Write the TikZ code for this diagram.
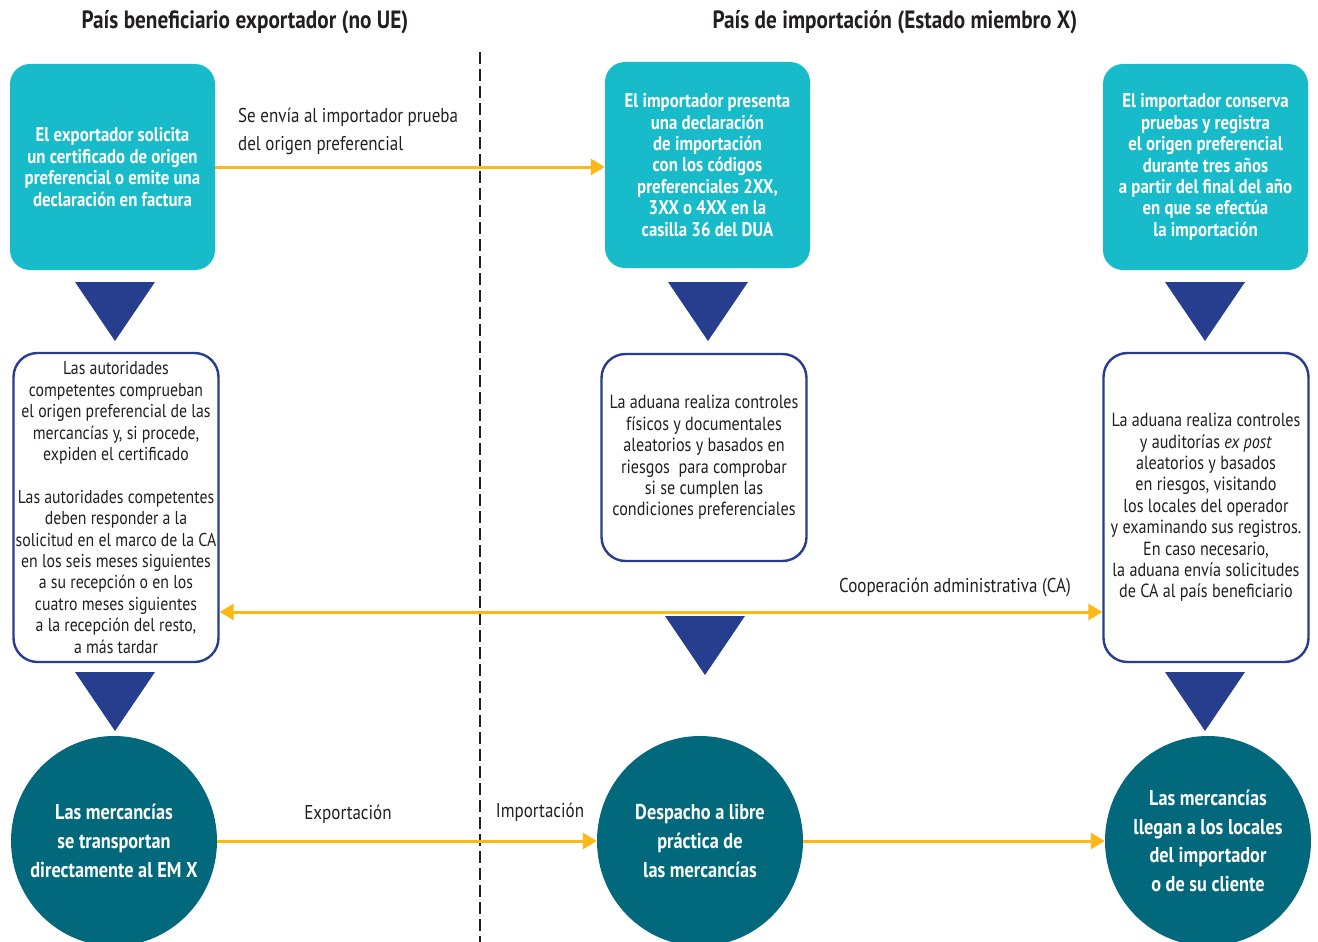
\documentclass[tikz,border=0pt]{standalone}
\usepackage{fontspec}
\setmainfont{PT Sans}[FakeStretch=0.85]
\usetikzlibrary{arrows.meta,calc,shapes.geometric}
\definecolor{inkgray}{HTML}{231F20}
\definecolor{boxteal}{HTML}{17BBCA}
\definecolor{darkteal}{HTML}{02697D}
\definecolor{navy}{HTML}{273D8E}
\definecolor{gold}{HTML}{FBB817}
\tikzset{
  tealbox/.style={fill=boxteal, rounded corners=20pt, minimum width=205pt, minimum height=206pt,
    inner sep=0pt, align=center, text=white, font=\bfseries\fontsize{19.8}{21.4}\selectfont},
  whitebox/.style={draw=navy, line width=2.4pt, fill=white, rounded corners=24pt, minimum width=205pt,
    inner sep=0pt, align=center, text=inkgray, font=\fontsize{19}{21.4}\selectfont},
  round/.style={ellipse, fill=darkteal, minimum width=206pt, minimum height=210pt, inner sep=0pt},
  roundtext/.style={inner sep=0pt, align=center, text=white, font=\bfseries\fontsize{21.5}{28.6}\selectfont},
  flow/.style={draw=gold, line width=3pt, -{Triangle[length=14pt,width=16pt]}},
  twoway/.style={draw=gold, line width=3pt, {Triangle[length=14pt,width=16pt]}-{Triangle[length=14pt,width=16pt]}},
  lbl/.style={text=inkgray, font=\fontsize{20}{28}\selectfont, inner sep=0pt},
  head/.style={text=inkgray, font=\bfseries\fontsize{25}{28}\selectfont, inner sep=0pt},
  tri/.style={fill=navy}
}
\newcommand{\downtri}[2]{\fill[tri] (#1-40,#2) -- (#1+40,#2) -- (#1,#2+59) -- cycle;}
\begin{document}
\begin{tikzpicture}[x=1pt,y=-1pt]
\useasboundingbox (0,0) rectangle (1318,942);

% column headings and the border between the two countries
\node[head] (h1) at (245,22) {País beneficiario exportador (no UE)};
\node[head] (h2) at (895,22) {País de importación (Estado miembro X)};
\draw[inkgray, line width=2.5pt, dash pattern=on 12pt off 5pt] (480,52) -- (480,942);

% top row
\node[tealbox] (b1) at (112.5,167) {El exportador solicita\\un certificado de origen\\preferencial o emite una\\declaración en factura};
\node[tealbox] (b2) at (707.5,165) {El importador presenta\\una declaración\\de importación\\con los códigos\\preferenciales 2XX,\\3XX o 4XX en la\\casilla 36 del DUA};
\node[tealbox] (b3) at (1205.5,167) {El importador conserva\\pruebas y registra\\el origen preferencial\\durante tres años\\a partir del final del año\\en que se efectúa\\la importación};

% middle row
\node[whitebox, minimum height=309pt, font=\fontsize{18.6}{21.4}\selectfont] (w1) at (116,507.5) {Las autoridades\\competentes comprueban\\el origen preferencial de las\\mercancías y, si procede,\\expiden el certificado\\[21.4pt]Las autoridades competentes\\deben responder a la\\solicitud en el marco de la CA\\en los seis meses siguientes\\a su recepción o en los\\cuatro meses siguientes\\a la recepción del resto,\\a más tardar};
\node[whitebox, minimum height=207pt] (w2) at (704,457.5) {La aduana realiza controles\\físicos y documentales\\aleatorios y basados en\\riesgos\ \ para comprobar\\si se cumplen las\\condiciones preferenciales};
\node[whitebox, minimum height=309pt] (w3) at (1206,507.5) {La aduana realiza controles\\y auditorías \textit{ex post}\\aleatorios y basados\\en riesgos, visitando\\los locales del operador\\y examinando sus registros.\\En caso necesario,\\la aduana envía solicitudes\\de CA al país beneficiario};

% bottom row: discs with their captions on top
\node[round] (c1) at (114,841) {};
\node[round] (c2) at (700,841) {};
\node[round] (c3) at (1208,841) {};
\node[roundtext] (t1) at (c1) {Las mercancías\\se transportan\\directamente al EM X};
\node[roundtext] (t2) at (c2) {Despacho a libre\\práctica de\\las mercancías};
\node[roundtext] (t3) at (c3) {Las mercancías\\llegan a los locales\\del importador\\o de su cliente};

% downward steps
\downtri{115}{282}
\downtri{708}{282}
\downtri{1205}{282}
\downtri{115}{672}
\downtri{705}{616}
\downtri{1205}{672}

% connectors
\draw[flow] (b1.east) -- (b1.east -| b2.west);
\draw[twoway] ($(w1.east)+(0,104.5)$) -- ($(w3.west)+(0,104.5)$);
\draw[flow] (c1.east) -- (c2.west);
\draw[flow] (c2.east) -- (c3.west);

% connector labels
\node[lbl, anchor=north west, align=left] (l1) at (238,108) {Se envía al importador prueba\\del origen preferencial};
\node[lbl] (l2) at (955,587) {Cooperación administrativa (CA)};
\node[lbl] (l3) at (348,814) {Exportación};
\node[lbl] (l4) at (540,812) {Importación};
\end{tikzpicture}
\end{document}
